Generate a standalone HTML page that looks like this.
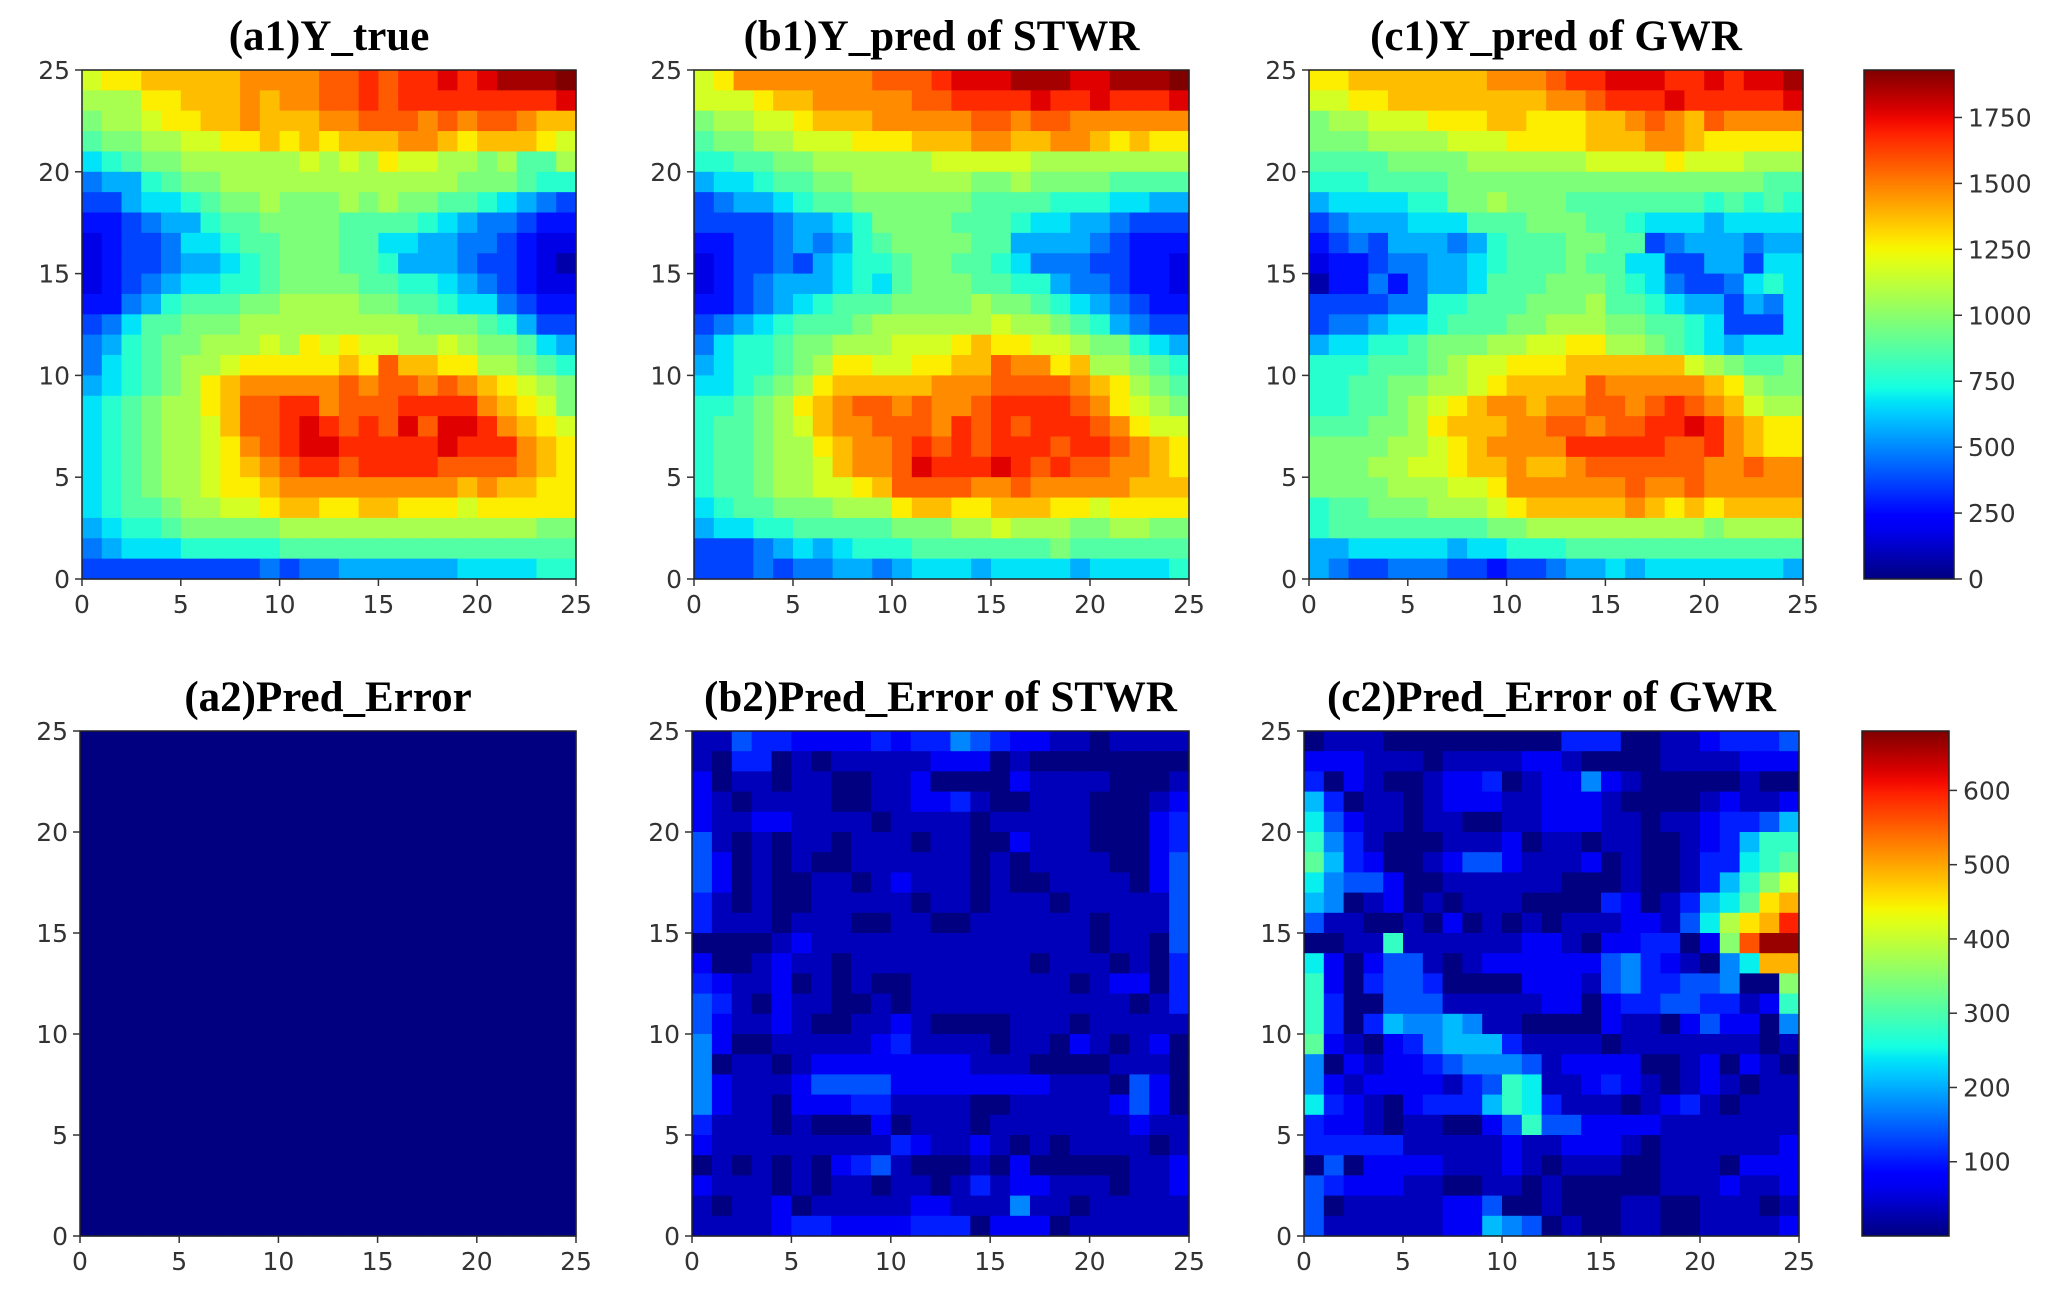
<!DOCTYPE html>
<html><head><meta charset="utf-8">
<style>
html,body{margin:0;padding:0;background:#fff;}
svg{display:block;}
.tk{font-family:"DejaVu Sans","Liberation Sans",sans-serif;font-size:25px;fill:#333;}
.tt{font-family:"Liberation Serif",serif;font-size:43px;font-weight:bold;fill:#000;}
</style></head>
<body>
<svg id="fig" width="2067" height="1291" viewBox="0 0 2067 1291" xmlns="http://www.w3.org/2000/svg"></svg>
<script>
const ALPHA = "0123456789ABCDEFGHIJ";
const tickValues = [0,5,10,15,20,25];
const cbTicksTop = [0,250,500,750,1000,1250,1500,1750];
const cbTicksBottom = [100,200,300,400,500,600];
const topRange = [0,1930];
const bottomRange = [0,680];
const topStep = 100;
const topOffset = 70;
const bottomStep = 35;
const bottomOffset = 0;
const titles = ["(a1)Y_true","(b1)Y_pred of STWR","(c1)Y_pred of GWR","(a2)Pred_Error","(b2)Pred_Error of STWR","(c2)Pred_Error of GWR"];
// rows from y=24 (top) down to y=0; each char level in ALPHA
const yTrue = [
"BCCDDDDDEEEEFFGFGGHGHIIIJ","AAACCDDDEDEEFFGFGGGGGGGGH","9AABCCDDEDDDEEFFFEFEFFEDD","899AABBCCDCDCDDDEEDCDDDCB","67899AAAAAABABACBBAA9A88A",
"4557899AAAAAAAAAAAA999877","335667899A999A9A998876543","2234557889999888876544322","1233466788999886655443211","1233455678999887555433210",
"1234566778999988776543211","2245788899AAAA99887664322","34688999AAAAAAAAA99987533","457899AAABACBCBBAABA99865","46789AABCCCCCDCFDDCCAA987",
"56789ACDEEEEEFEFFEFEDCBA9","6789AACDFFGGEFFFGGGGEDCB9","6789AABDFFGHGFGFHFHHGEDCB","6789AABCEFGHHGGGGGHGGGEDC","6789AABCDEFGGFGGGGFFFFEDC",
"6789AABCCDEEEEEEEEEDEDDCC","67889AABBCDDCCDDCCCBCCCCC","5677899999AAAAAAAAAAAAA99","4566677777888888888888888","3333333334344555555666677"];
const yStwr = [
"BCEEEEEEEFFFGHHHIIIHHIIIJ","BBBCDDEEEEEFFGGGGHGGHGGGH","9AABBCDDDEEEEEFFEFFEEEEEE","899AABBBCCCDDDEEDDEEDCDCC","778899AAAAAABBBBBAAAAAAAA",
"56678899AAAAAA99A99998888","3455678899999988887776655","3333455679999888766554333","2233454578999988555543222","1233435677899887644433221",
"1234555676899988775443221","22345678889999A9987654322","345678889AAAAAABAA9875433","4677899AAABBBCDCCBBA99765","567789ACCBBCCDDFEECDAA987",
"66789ACDDDDDEEEFFFFEDCA98","7789ACDEFFEFEEFGGGGFECBA9","7889ABDEEFFFEGFGFGGGFECBB","7889AACDEEFGFGFGGGFGGFEDC","7889AABDEEFHGGGHGFGFFEEDC",
"7889AABBCDFFFFEEFEEEEEDDD","6788999AAACDDCCDDDCCBCCCC","5667788888999AABAAA99AA99","3334565677788888889888888","3334344554566656666566667"];
const yGwr = [
"CCDDDDDDDEEEFGGHHHGGHGHHI","BBCCDDDDDDDDEEFGGGHGGGGGH","9AABBBCCCDDCCCDDEFEDFEEEE","999AAAABBBCCCCDDDEEDCCCCC","88889999AAAAAABBBBCBBBAAA",
"7778888999999999999999988","566667799A999888888878787","3455566688899988766656666","2343555457888998834555455","1223445567888988663355366",
"0224245568889998764334676","33334477888999A8876553546","344566788899AAA9988763336","566778999AABBCCAA98765666","7778889ABBCCCDDDDDDBA9889",
"778899AABCDDDDFEEEEEDCA99","77889ABCDEEDEEFFEFGFEDBAA","88899ACDDDEEFFEFFGGHGEDCC","9999AABCDEEEEGGGGGFFGEDCC","999AABBCDDEDDEFFFFFFEEFEE",
"9999AAABBCEEEEEEFEEFEEEEE","788999AAABCDDDDDEDCDCDDDD","78888888899AAAAAAAAA9AAAA","5566666566777888888888888","5433444332334556566666665"];
const errA = Array(25).fill("0000000000000000000000000");
const errStwr = [
"1143322223233543221101111","1033010111112220100000000","2011011001120000211110001","2101111001122310011100012","2112211110111101111100023",
"4101011011101100211100023","4201010011111101011110024","4201001101211101001111024","3101001111101101110111114","3111011100110011111101114",
"0000121111111111111101104","2001211011111111101110103","3211201010011111111012203","4310211001011111111111013","4211210011210000111011111",
"5200111112311110110210120","5011012222222211100001110","5211124444222222221110420","5211022233111100111112420","3111010002011101111111211",
"2111111111321121010111101","0101010234100010200000112","2111010110110131221110112","1011201111122111511011111","1111233222233302220111111"];
const errGwr = [
"0111000000000333001123334","2221110111122100001111222","3021001223012252100000100","6301101222112221000012112","7421101100112221101123346",
"8531000111201101100123688","9632001244211120100133789","7544200111111000100136 8AC".replace(" ","").slice(0,25),"650120101110000320136 79DE".replace(" ","").slice(0,25),"4110010201010111221 47BDEH".replace(" ","").slice(0,25),
"001181111112210223302AGJJ","720244101222222453210 57EE".replace(" ","").slice(0,25),"820344300002221453344500A","8300444111112202334433128","8303655651100002110242205",
"9210235666311110111111101","5021223455541222200120210","5212222134871123210121011","7321023336873111012310111","3221011002484422221111111",
"3333311111211222101111112","0402222111210111001110222","4322211001101000001112112","4011111224001000110011101","4111111226540100110011112"];

const panels = [
 {grid:yTrue,  x0:82,  x1:576,  y0:70,  y1:579,  rng:topRange, step:topStep, off:topOffset, title:titles[0], name:"panel-a1-y-true"},
 {grid:yStwr,  x0:694, x1:1189, y0:70,  y1:579,  rng:topRange, step:topStep, off:topOffset, title:titles[1], name:"panel-b1-y-pred-stwr"},
 {grid:yGwr,   x0:1309,x1:1803, y0:70,  y1:579,  rng:topRange, step:topStep, off:topOffset, title:titles[2], name:"panel-c1-y-pred-gwr"},
 {grid:errA,   x0:80,  x1:576,  y0:731, y1:1236, rng:bottomRange, step:bottomStep, off:bottomOffset, title:titles[3], name:"panel-a2-pred-error"},
 {grid:errStwr,x0:692, x1:1189, y0:731, y1:1236, rng:bottomRange, step:bottomStep, off:bottomOffset, title:titles[4], name:"panel-b2-pred-error-stwr"},
 {grid:errGwr, x0:1304,x1:1799, y0:731, y1:1236, rng:bottomRange, step:bottomStep, off:bottomOffset, title:titles[5], name:"panel-c2-pred-error-gwr"}
];

function jet(t){
  t=Math.max(0,Math.min(1,t));
  function pw(pts){for(let i=1;i<pts.length;i++){if(t<=pts[i][0]){const a=pts[i-1],b=pts[i];return a[1]+(b[1]-a[1])*(t-a[0])/(b[0]-a[0]);}}return pts[pts.length-1][1];}
  const r=pw([[0,0],[0.35,0],[0.66,1],[0.89,1],[1,0.5]]);
  const g=pw([[0,0],[0.125,0],[0.375,1],[0.64,1],[0.91,0],[1,0]]);
  const b=pw([[0,0.5],[0.11,1],[0.34,1],[0.65,0],[1,0]]);
  return `rgb(${Math.round(r*255)},${Math.round(g*255)},${Math.round(b*255)})`;
}
const NS="http://www.w3.org/2000/svg";
const svg=document.getElementById('fig');
function mk(tag,attrs,parent){const e=document.createElementNS(NS,tag);for(const k in attrs)e.setAttribute(k,attrs[k]);(parent||svg).appendChild(e);return e;}

panels.forEach(p=>{
  const g=mk('g',{});
  
  
  const sx=v=>p.x0+(p.x1-p.x0)*v/25;
  const sy=v=>p.y1-(p.y1-p.y0)*v/25;
  const cw=(p.x1-p.x0)/25, ch=(p.y1-p.y0)/25;
  for(let r=0;r<25;r++){
    const row=p.grid[r]; const yv=24-r;
    for(let c=0;c<25;c++){
      const lvl=Math.max(0,ALPHA.indexOf(row[c]||'0'));
      const val=p.off+lvl*p.step;
      const rc=mk('rect',{x:sx(c).toFixed(2),y:sy(yv+1).toFixed(2),width:(cw+0.6).toFixed(2),height:(ch+0.6).toFixed(2),fill:jet((val-p.rng[0])/(p.rng[1]-p.rng[0]))},g);
      
      
    }
  }
  mk('rect',{x:p.x0,y:p.y0,width:p.x1-p.x0,height:p.y1-p.y0,fill:'none',stroke:'#222','stroke-width':1.5},g);
  tickValues.forEach(v=>{
    mk('line',{x1:sx(v),x2:sx(v),y1:p.y1,y2:p.y1+7,stroke:'#333','stroke-width':1.5},g);
    const xt=mk('text',{x:sx(v),y:p.y1+34,'text-anchor':'middle',class:'tk'},g); xt.textContent=v;
    
    
    mk('line',{x1:p.x0-7,x2:p.x0,y1:sy(v),y2:sy(v),stroke:'#333','stroke-width':1.5},g);
    const yt=mk('text',{x:p.x0-12,y:sy(v)+9,'text-anchor':'end',class:'tk'},g); yt.textContent=v;
    
    
  });
  const t=mk('text',{x:(p.x0+p.x1)/2,y:p.y0-20,'text-anchor':'middle',class:'tt'},g); t.textContent=p.title;
  
  
});

const defs=mk('defs',{});
const lg=mk('linearGradient',{id:'jetg',x1:0,y1:1,x2:0,y2:0},defs);
for(let i=0;i<=40;i++){mk('stop',{offset:i/40,'stop-color':jet(i/40)},lg);}
function colorbar(x0,x1,y0,y1,rng,ticks,name){
  const g=mk('g',{});
  
  
  mk('rect',{x:x0,y:y0,width:x1-x0,height:y1-y0,fill:'url(#jetg)',stroke:'#222','stroke-width':1.5},g);
  const sy=v=>y1-(y1-y0)*(v-rng[0])/(rng[1]-rng[0]);
  ticks.forEach(v=>{
    mk('line',{x1:x1,x2:x1+8,y1:sy(v),y2:sy(v),stroke:'#333','stroke-width':1.5},g);
    const t=mk('text',{x:x1+14,y:sy(v)+9,class:'tk'},g); t.textContent=v;
    
    
  });
}
colorbar(1864,1954,70,579,topRange,cbTicksTop,'colorbar-top');
colorbar(1862,1949,731,1236,bottomRange,cbTicksBottom,'colorbar-bottom');
</script>
</body></html>
